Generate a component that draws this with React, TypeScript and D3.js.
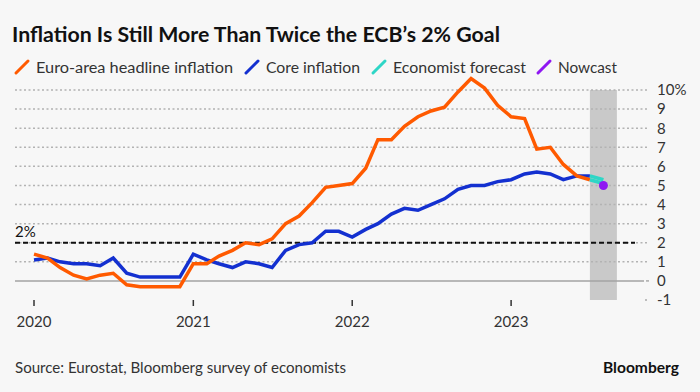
import React, { useEffect } from "react";
import * as d3 from "d3";

const startMonth = new Date(2020, 0, 1);
const headline = [
  1.4, 1.2, 0.7, 0.3, 0.1, 0.3, 0.4, -0.2, -0.3, -0.3, -0.3, -0.3,
  0.9, 0.9, 1.3, 1.6, 2.0, 1.9, 2.2, 3.0, 3.4, 4.1, 4.9, 5.0,
  5.1, 5.9, 7.4, 7.4, 8.1, 8.6, 8.9, 9.1, 9.9, 10.6, 10.1, 9.2,
  8.6, 8.5, 6.9, 7.0, 6.1, 5.5, 5.3,
];
const core = [
  1.1, 1.2, 1.0, 0.9, 0.9, 0.8, 1.2, 0.4, 0.2, 0.2, 0.2, 0.2,
  1.4, 1.1, 0.9, 0.7, 1.0, 0.9, 0.7, 1.6, 1.9, 2.0, 2.6, 2.6,
  2.3, 2.7, 3.0, 3.5, 3.8, 3.7, 4.0, 4.3, 4.8, 5.0, 5.0, 5.2,
  5.3, 5.6, 5.7, 5.6, 5.3, 5.5, 5.5,
];
const forecastMonths = ["2023-07", "2023-08"];
const forecastHeadline = [5.3, 5.1];
const forecastCore = [5.5, 5.3];
const nowcastMonth = "2023-08";
const nowcastValue = 5.0;
const shadeStart = "2023-07";
const shadeEnd = "2023-09";
const targetValue = 2;
const yTicks = [10, 9, 8, 7, 6, 5, 4, 3, 2, 1, 0, -1];
const xTickYears = [2020, 2021, 2022, 2023];
const legendLabels = ["Euro-area headline inflation", "Core inflation", "Economist forecast", "Nowcast"];
const title = "Inflation Is Still More Than Twice the ECB\u2019s 2% Goal";
const source = "Source: Eurostat, Bloomberg survey of economists";

const COLORS = { headline: "#ff5a00", core: "#1330d0", forecast: "#2ed6c6", nowcast: "#8f17f2" };
const FONT = "Lato, 'Noto Sans', sans-serif";
const TEXT = "#333333";

const parseMonth = (s: string) => {
  const [y, m] = s.split("-").map(Number);
  return new Date(y, m - 1, 1);
};
const monthDate = (i: number) => d3.timeMonth.offset(startMonth, i);

export default function App() {
  useEffect(() => {
    document.body.style.margin = "0";
  }, []);

  const x = d3.scaleTime().domain([new Date(2020, 0, 1), new Date(2024, 0, 1)]).range([34, 670]);
  const y = d3.scaleLinear().domain([-1, 10]).range([300, 90]);

  const line = d3
    .line<[Date, number]>()
    .x((d) => x(d[0]))
    .y((d) => y(d[1]));

  const headlinePts: [Date, number][] = headline.map((v, i) => [monthDate(i), v]);
  const corePts: [Date, number][] = core.map((v, i) => [monthDate(i), v]);
  const fH: [Date, number][] = forecastHeadline.map((v, i) => [parseMonth(forecastMonths[i]), v]);
  const fC: [Date, number][] = forecastCore.map((v, i) => [parseMonth(forecastMonths[i]), v]);

  const gridLeft = 15;
  const gridRight = 649;

  const legendX = [
    { slash: 16, text: 36, w: 197 },
    { slash: 246, text: 266, w: 94 },
    { slash: 373, text: 393, w: 133 },
    { slash: 538, text: 558, w: 59 },
  ];
  const legendColors = [COLORS.headline, COLORS.core, COLORS.forecast, COLORS.nowcast];

  return (
    <svg
      width={700}
      height={392}
      style={{ position: "absolute", left: 0, top: 0, display: "block" }}
      fontFamily={FONT}
    >
      <rect width={700} height={392} fill="#f7f7f7" />
      <text x={12} y={42} fontSize={20} fontWeight={700} fill="#111" textLength={488} lengthAdjust="spacingAndGlyphs">
        {title}
      </text>

      {legendLabels.map((l, i) => (
        <g key={l}>
          <line
            x1={legendX[i].slash}
            y1={73}
            x2={legendX[i].slash + 12}
            y2={61}
            stroke={legendColors[i]}
            strokeWidth={3}
            strokeLinecap="round"
          />
          <text x={legendX[i].text} y={72.5} fontSize={15.5} fill={TEXT} textLength={legendX[i].w} lengthAdjust="spacingAndGlyphs">
            {l}
          </text>
        </g>
      ))}

      {/* shaded period */}
      <rect
        x={x(parseMonth(shadeStart))}
        y={y(10)}
        width={x(parseMonth(shadeEnd)) - x(parseMonth(shadeStart))}
        height={y(-1) - y(10)}
        fill="#c9c9c9"
      />

      {/* gridlines */}
      {yTicks.map((t) => {
        const yy = y(t);
        if (t === -1) {
          return <line key={t} x1={645} x2={649} y1={yy} y2={yy} stroke="#aaa" strokeWidth={1.5} strokeDasharray="2,2.5" />;
        }
        if (t === 0) {
          return (
            <g key={t}>
              <line x1={gridLeft} x2={644} y1={yy} y2={yy} stroke="#a3a3a3" strokeWidth={1.5} />
              <line x1={646} x2={649} y1={yy} y2={yy} stroke="#aaa" strokeWidth={1.5} />
            </g>
          );
        }
        return (
          <line key={t} x1={gridLeft} x2={gridRight} y1={yy} y2={yy} stroke="#b3b3b3" strokeWidth={1.5} strokeDasharray="2,2.5" />
        );
      })}
      {yTicks.map((t) => (
        <text key={"l" + t} x={657} y={y(t)} dy="0.36em" fontSize={15} fill={TEXT}>
          {t === 10 ? "10%" : String(t)}
        </text>
      ))}

      {/* 2% target */}
      <line x1={gridLeft} x2={635} y1={y(targetValue)} y2={y(targetValue)} stroke="#111" strokeWidth={2} strokeDasharray="5,3" />
      <text x={15} y={y(targetValue) - 6} fontSize={15} fill="#111">
        2%
      </text>

      {/* x axis */}
      {xTickYears.map((yr) => {
        const xx = x(new Date(yr, 0, 1));
        return (
          <g key={yr}>
            <line x1={xx} x2={xx} y1={300} y2={306} stroke={TEXT} strokeWidth={1.5} />
            <text x={xx} y={327} fontSize={15} fill={TEXT} textAnchor="middle">
              {yr}
            </text>
          </g>
        );
      })}

      {/* series */}
      <path d={line(corePts) || ""} fill="none" stroke={COLORS.core} strokeWidth={3.5} />
      <path d={line(headlinePts) || ""} fill="none" stroke={COLORS.headline} strokeWidth={3.5} />
      <path d={line(fC) || ""} fill="none" stroke={COLORS.forecast} strokeWidth={3.5} />
      <path d={line(fH) || ""} fill="none" stroke={COLORS.forecast} strokeWidth={3.5} />
      <circle cx={x(parseMonth(nowcastMonth))} cy={y(nowcastValue)} r={4.5} fill={COLORS.nowcast} />

      {/* footer */}
      <text x={15} y={373} fontSize={15} fill={TEXT} textLength={331} lengthAdjust="spacingAndGlyphs">
        {source}
      </text>
      <text x={603} y={373} fontSize={16} fontWeight={700} fill="#111" textLength={76} lengthAdjust="spacingAndGlyphs">
        Bloomberg
      </text>
    </svg>
  );
}
